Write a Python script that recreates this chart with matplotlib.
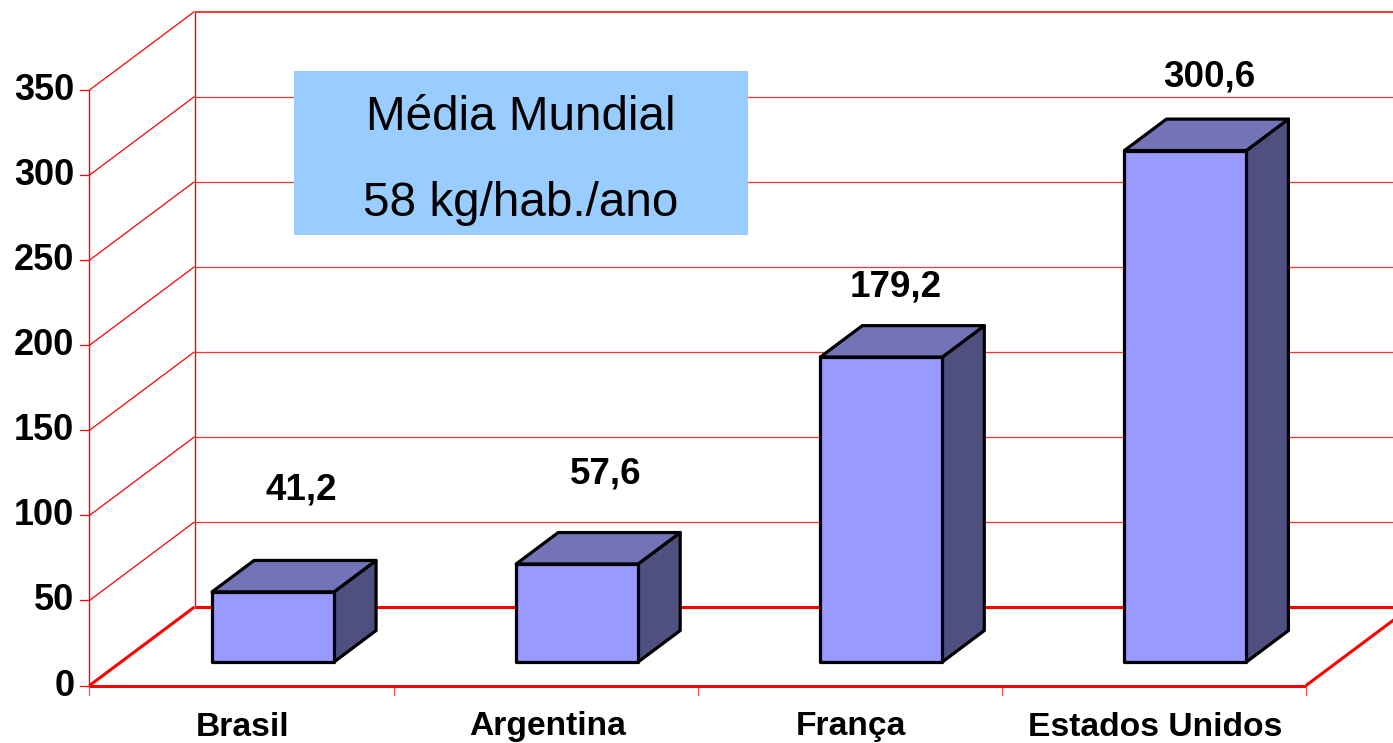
import matplotlib.pyplot as plt
import numpy as np

categories = ["Brasil", "Argentina", "França", "Estados Unidos"]
values = [41.2, 57.6, 179.2, 300.6]
value_labels = ["41,2", "57,6", "179,2", "300,6"]
y_ticks = [0, 50, 100, 150, 200, 250, 300, 350]
note_lines = ["Média Mundial", "58 kg/hab./ano"]

W, H = 1393, 743
x0_px, y0_px = 89.5, 685.5
cat_px = (1306 - 89.5) / 4
val_px = (685.5 - 90) / 350

# oblique projection: depth 0 is the front of the floor, depth 1 the back wall
depth_x = 105 / cat_px
depth_y = 78.5 / val_px
bar_width = 122 / cat_px
bar_front = 0.30
bar_back = 0.70

# where each value label sits relative to its bar's front top centre, in pixels
label_dx = [28, 29, 14, 24]
label_dy = [106, 94, 74, 78]

RED = "#ff0000"
FRONT = "#9999ff"
TOP = "#7373b8"
SIDE = "#4f4f80"

plt.rcParams["font.family"] = ["Liberation Sans", "DejaVu Sans"]

fig = plt.figure(figsize=(W / 100, H / 100), dpi=100)
ax = fig.add_axes([0, 0, 1, 1])
ax.set_xlim(-x0_px / cat_px, (W - x0_px) / cat_px)
ax.set_ylim((y0_px - H) / val_px, y0_px / val_px)
ax.axis("off")


def proj(x, y, d):
    return x + d * depth_x, y + d * depth_y


def wall_line(p, q, lw, z=1, alpha=1.0):
    ax.plot([p[0], q[0]], [p[1], q[1]], color=RED, lw=lw, alpha=alpha, zorder=z,
            solid_capstyle="butt", clip_on=True)


n = len(categories)
top = y_ticks[-1]

# walls and gridlines
for v in y_ticks[1:]:
    lw = 1.4 if v == top else 0.9
    wall_line(proj(0, v, 0), proj(0, v, 1), 0.9)
    wall_line(proj(0, v, 1), proj(n, v, 1), lw, alpha=0.8)
wall_line(proj(0, 0, 0), proj(0, top, 0), 1.0)
wall_line(proj(0, 0, 1), proj(0, top, 1), 1.0)

# floor
wall_line(proj(0, 0, 0), proj(n, 0, 0), 2.2, z=1.5)
wall_line(proj(0, 0, 0), proj(0, 0, 1), 2.2, z=1.5)
wall_line(proj(0, 0, 1), proj(n, 0, 1), 2.2, z=1.5)
wall_line(proj(n, 0, 0), proj(n, 0, 1), 2.2, z=1.5)

# ticks
tick_dx = 9 / cat_px
tick_dy = 9 / val_px
for v in y_ticks:
    ax.plot([-tick_dx, 0], [v, v], color=RED, lw=0.9, zorder=1)
    ax.text(-15 / cat_px, v + 3.5 / val_px, str(v), ha="right", va="center_baseline", fontsize=26,
            fontweight="bold", color="black")
for i in range(n + 1):
    ax.plot([i, i], [0, -tick_dy], color=RED, lw=0.9, alpha=0.7, zorder=1)

# bars
for i, (name, v, label) in enumerate(zip(categories, values, value_labels)):
    c = i + 0.5
    x1, x2 = c - bar_width / 2, c + bar_width / 2
    corners = {
        "front": [proj(x1, 0, bar_front), proj(x2, 0, bar_front), proj(x2, v, bar_front), proj(x1, v, bar_front)],
        "top": [proj(x1, v, bar_front), proj(x2, v, bar_front), proj(x2, v, bar_back), proj(x1, v, bar_back)],
        "side": [proj(x2, 0, bar_front), proj(x2, 0, bar_back), proj(x2, v, bar_back), proj(x2, v, bar_front)],
    }
    for face, color in zip(["side", "top", "front"], [SIDE, TOP, FRONT]):
        ax.add_patch(plt.Polygon(corners[face], closed=True, facecolor=color, edgecolor="black",
                                 lw=2.3, joinstyle="round", zorder=3))
    # value label sits above the bar, category label below the axis
    lx, ly = proj(c, v, bar_front)
    ax.text(lx + label_dx[i] / cat_px, ly + label_dy[i] / val_px, label, ha="center", va="center_baseline",
            fontsize=26.5, fontweight="bold", color="black", zorder=4)
    ax.text(c + 1.5 / cat_px, -38 / val_px, name, ha="center", va="center_baseline", fontsize=24.2,
            fontweight="bold", color="black", zorder=4)

# note box
box_x = (294 - x0_px) / cat_px
box_w = (748 - 294) / cat_px
box_y = (y0_px - 235) / val_px
box_h = (235 - 71) / val_px
ax.add_patch(plt.Rectangle((box_x, box_y), box_w, box_h, facecolor="#99ccff", edgecolor="none", zorder=2))
for line, py in zip(note_lines, [113, 199]):
    ax.text(box_x + box_w / 2, (y0_px - py) / val_px, line, ha="center", va="center_baseline",
            fontsize=34.3, color="black", zorder=4)

fig.savefig("out.png", dpi=100)
